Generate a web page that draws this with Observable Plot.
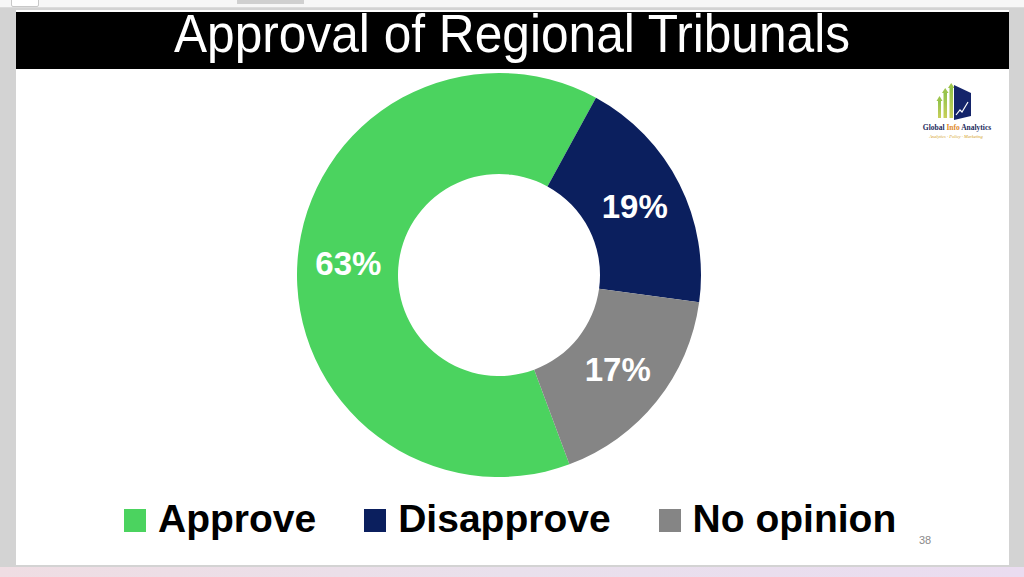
<!DOCTYPE html>
<html>
<head>
<meta charset="utf-8">
<script src="https://cdn.jsdelivr.net/npm/d3@7"></script>
<script src="https://cdn.jsdelivr.net/npm/@observablehq/plot@0.6"></script>
<style>
  html, body { margin: 0; padding: 0; }
  body { width: 1024px; height: 577px; overflow: hidden; position: relative; background: #d3d3d3; font-family: "Liberation Sans", Arial, sans-serif; }
  #topstrip { position: absolute; left: 0; top: 0; width: 1024px; height: 7px; background: #f7f7f7; border-bottom: 1px solid #dcdcdc; }
  #topbox { position: absolute; left: 11px; top: -2px; width: 26px; height: 7px; border: 1px solid #c8c8c8; border-radius: 2px; background: #fff; }
  #topbar { position: absolute; left: 237px; top: 0; width: 67px; height: 4px; background: #d0d0d0; }
  #slide { position: absolute; left: 16px; top: 10px; width: 993px; height: 555px; background: #fff; }
  #titlebar { position: absolute; left: 16px; top: 12px; width: 993px; height: 57px; background: #000; }
  #titlesvg { position: absolute; left: 16px; top: 0px; }
  #bottomstrip { position: absolute; left: 0; top: 567px; width: 1024px; height: 10px; background: linear-gradient(90deg, #efdde3, #e9e0ec 50%, #eadcf0); }
  #chart { position: absolute; left: 289px; top: 65px; }
  #legend { position: absolute; left: 124px; top: 499px; display: flex; align-items: flex-start; gap: 48px; }
  .item { display: flex; align-items: flex-start; gap: 12px; }
  .sw { width: 22px; height: 23px; margin-top: 10px; }
  .lab { font: bold 39px/39px "Liberation Sans", Arial, sans-serif; color: #000; white-space: nowrap; }
  #pagenum { position: absolute; left: 919px; top: 534px; font: 11px "Liberation Sans Narrow", "Liberation Sans", Arial, sans-serif; color: #8a8a8a; }
  #logo { position: absolute; left: 912px; top: 80px; }
</style>
</head>
<body>
<div id="topstrip"><div id="topbox"></div><div id="topbar"></div></div>
<div id="slide"></div>
<div id="titlebar"></div>
<svg id="titlesvg" width="993" height="69">
  <text id="title" x="496" y="52" text-anchor="middle" fill="#fff"
    font-family="'Liberation Sans Narrow', 'Liberation Sans', Arial, sans-serif"
    font-size="53" textLength="676" lengthAdjust="spacingAndGlyphs"></text>
</svg>
<div id="bottomstrip"></div>
<div id="chart"></div>
<div id="legend"></div>
<div id="pagenum"></div>
<div id="logo">
  <svg width="90" height="62">
    <defs>
      <linearGradient id="bg" x1="0" y1="1" x2="0" y2="0">
        <stop offset="0" stop-color="#c9cf5a"/><stop offset="1" stop-color="#8fc24a"/>
      </linearGradient>
    </defs>
    <rect x="26" y="20" width="3" height="18" fill="url(#bg)"/>
    <polygon points="24.5,21 27.5,16 30.5,21" fill="#9cc44c"/>
    <rect x="31.5" y="12" width="3.5" height="26" fill="url(#bg)"/>
    <polygon points="30,13 33.2,8 36.5,13" fill="#9cc44c"/>
    <rect x="37.5" y="7" width="3.5" height="31" fill="url(#bg)"/>
    <polygon points="36,8 39.2,3 42.5,8" fill="#9cc44c"/>
    <polygon points="42,5 59,13 59,36 42,40" fill="#14246a"/>
    <polyline points="44,35 48,30 50,32 56,22" fill="none" stroke="#fff" stroke-width="1.2"/>
    <text x="45" y="50" text-anchor="middle" font-family="'Liberation Serif', serif" font-weight="bold" font-size="7.5" fill="#1c2a5c">Global <tspan fill="#e08a2a">Info</tspan> Analytics</text>
    <text x="44" y="58" text-anchor="middle" font-family="'Liberation Serif', serif" font-style="italic" font-size="4.5" fill="#d4a020">Analytics · Policy · Marketing</text>
  </svg>
</div>
<script>
// ---- data ----
const titleText = "Approval of Regional Tribunals";
const categories = ["Approve", "Disapprove", "No opinion"];
const values = [63, 19, 17];
const labels = ["63%", "19%", "17%"];
const colors = ["#4bd35f", "#0b1f5e", "#858585"];
const slideNumber = "38";

document.getElementById("title").textContent = titleText;
document.getElementById("pagenum").textContent = slideNumber;

const color = Plot.scale({color: {type: "ordinal", domain: categories, range: colors}});

const startDeg = 159.6;
const pie = d3.pie().sort(null).value(d => d.value)
  .startAngle(startDeg * Math.PI / 180)
  .endAngle(startDeg * Math.PI / 180 + 2 * Math.PI);
const rows = categories.map((c, i) => ({category: c, value: values[i], label: labels[i]}));
const arcs = pie(rows);

const R_OUT = 202, R_IN = 101;
const arcGen = d3.arc().innerRadius(R_IN).outerRadius(R_OUT);

const slices = (index, scales) => {
  const g = d3.create("svg:g");
  const cx = scales.x(0), cy = scales.y(0);
  const k = scales.x(1) - scales.x(0);
  const gen = d3.arc().innerRadius(R_IN * k).outerRadius(R_OUT * k);
  g.attr("transform", `translate(${cx},${cy})`);
  g.selectAll("path").data(arcs).join("path")
    .attr("d", gen)
    .attr("fill", d => color.apply(d.data.category));
  return g.node();
};

const plot = Plot.plot({
  width: 420,
  height: 420,
  margin: 0,
  x: {domain: [-210, 210], axis: null},
  y: {domain: [-210, 210], axis: null},
  marks: [
    slices,
    Plot.text(arcs, {
      x: d => arcGen.centroid(d)[0],
      y: d => -arcGen.centroid(d)[1],
      text: d => d.data.label,
      fill: "white",
      fontSize: 33,
      fontWeight: "bold",
      fontFamily: "'Liberation Sans', Arial, sans-serif"
    })
  ]
});
document.getElementById("chart").appendChild(plot);

// legend
const legend = document.getElementById("legend");
categories.forEach(c => {
  const item = document.createElement("div");
  item.className = "item";
  const sw = document.createElement("div");
  sw.className = "sw";
  sw.style.background = color.apply(c);
  const lab = document.createElement("div");
  lab.className = "lab";
  lab.textContent = c;
  item.appendChild(sw); item.appendChild(lab);
  legend.appendChild(item);
});
</script>
</body>
</html>
